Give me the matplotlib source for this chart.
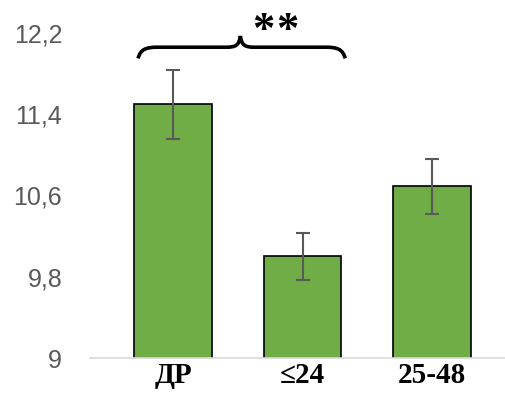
import matplotlib.pyplot as plt
from matplotlib.path import Path
from matplotlib.patches import PathPatch

# Group means and their error margins
groups = ['ДР', '≤24', '25-48']
means = [11.5, 10.0, 10.69]
errors = [0.34, 0.23, 0.27]
y_ticks = [9, 9.8, 10.6, 11.4, 12.2]
tick_labels = ['9', '9,8', '10,6', '11,4', '12,2']

fig = plt.figure(figsize=(5.06, 3.96), dpi=100)
ax = fig.add_axes([90 / 506, 38 / 396, 416 / 506, 325 / 396])

x = range(len(groups))
ax.bar(x, means, width=0.6, color='#70AD47', edgecolor='black', linewidth=1.2, zorder=2)
ax.errorbar(x, means, yerr=errors, fmt='none', ecolor='#595959', elinewidth=1.5,
            capsize=5, capthick=1.5, zorder=3)

ax.set_xlim(-0.641, 2.571)
ax.set_ylim(9, 12.2)
ax.set_yticks(y_ticks)
ax.set_yticklabels(tick_labels, fontsize=18, color='#595959', family='Liberation Sans')
ax.set_xticks(list(x))
ax.set_xticklabels(groups, fontsize=21, fontweight='bold', family='Liberation Serif')
ax.tick_params(axis='y', length=0, pad=20)
ax.tick_params(axis='x', length=0, pad=3)

for side in ['top', 'right', 'left']:
    ax.spines[side].set_visible(False)
ax.spines['bottom'].set_color('#D9D9D9')
ax.spines['bottom'].set_linewidth(1.2)

# curly brace over the first two bars
x0, x1 = -0.27, 1.33
xm = 0.52
y_end, y_mid, y_tip = 11.95, 12.06, 12.17
r_end = 0.15
r_tip = 0.11
verts = [
    (x0, y_end), (x0 + 0.02, y_mid - 0.02), (x0 + r_end * 0.4, y_mid), (x0 + r_end, y_mid),
    (xm - r_tip, y_mid),
    (xm - r_tip * 0.3, y_mid), (xm - 0.01, y_mid + 0.02), (xm, y_tip),
    (xm + 0.01, y_mid + 0.02), (xm + r_tip * 0.3, y_mid), (xm + r_tip, y_mid),
    (x1 - r_end, y_mid),
    (x1 - r_end * 0.4, y_mid), (x1 - 0.02, y_mid - 0.02), (x1, y_end),
]
codes = [Path.MOVETO, Path.CURVE4, Path.CURVE4, Path.CURVE4,
         Path.LINETO,
         Path.CURVE4, Path.CURVE4, Path.CURVE4,
         Path.CURVE4, Path.CURVE4, Path.CURVE4,
         Path.LINETO,
         Path.CURVE4, Path.CURVE4, Path.CURVE4]
ax.add_patch(PathPatch(Path(verts, codes), fill=False, edgecolor='black',
                       linewidth=2.6, capstyle='butt', clip_on=False, zorder=4))

# significance marker
for sx in [0.70, 0.885]:
    ax.text(sx, 12.22, '*', ha='center', va='center', fontsize=32, fontweight='bold',
            family='Liberation Serif', clip_on=False)

fig.savefig('out.png', dpi=100)
